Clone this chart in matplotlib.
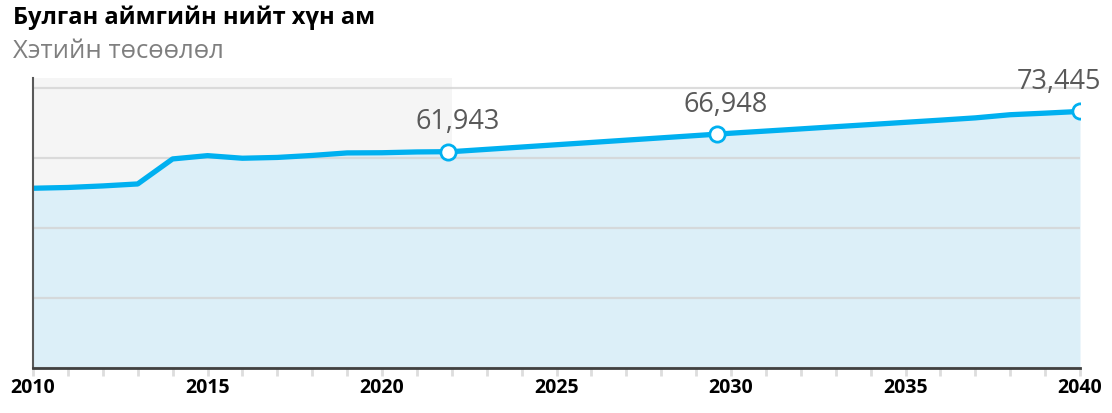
import numpy as np
import matplotlib
matplotlib.use("Agg")
import matplotlib.pyplot as plt

plt.rcParams['font.family'] = ['Open Sans', 'DejaVu Sans']

years = list(range(2010, 2041))
population = [51480, 51700, 52140, 52710, 59860, 60800, 60060, 60290, 60860, 61580,
              61630, 61860, 61943, 62600, 63260, 63920, 64570, 65230, 65890, 66550,
              67215, 67830, 68450, 69080, 69700, 70330, 70950, 71600, 72500, 72950,
              73445]

label_years = [2021.9, 2029.6, 2040]
label_values = [61943, 66948, 73445]
label_text = ["61,943", "66,948", "73,445"]

history_end = 2022

title = "Булган аймгийн нийт хүн ам"
subtitle = "Хэтийн төсөөлөл"

blue = "#00B0F0"

fig = plt.figure(figsize=(11.12, 4.14), dpi=100)
ax = fig.add_axes([33/1112, 1 - 369.3/414, (1080-33)/1112, (369.3-79)/414])

ax.axvspan(2010, history_end, color="#F5F5F5", zorder=0, lw=0)
ax.fill_between(years, population, 0, color="#DCEFF8", zorder=1, lw=0)
ax.plot(years, population, color=blue, lw=3.8, zorder=3, solid_joinstyle="round")
ax.plot(label_years, label_values, "o", ms=11, mfc="white", mec=blue, mew=2, zorder=4)

for x, v, t in zip(label_years, label_values, label_text):
    dx = -15 if x == label_years[-1] else 6.5
    ax.annotate(t, (x, v), xytext=(dx, 22), textcoords="offset points",
                ha="center", va="center", fontsize=19.5, color="#595959",
                annotation_clip=False)

ax.set_xlim(2010, 2040)
ax.set_ylim(0, 83000)
ax.set_yticks(np.arange(0, 80001, 20000))
ax.grid(axis="y", color="#D4D4D4", lw=1.6, alpha=0.8, zorder=2)
ax.set_axisbelow(False)
ax.tick_params(axis="y", left=False, labelleft=False)

ax.set_xticks(np.arange(2010, 2041, 5))
ax.set_xticks(np.arange(2010, 2041, 1), minor=True)
ax.tick_params(axis="x", which="both", length=6, width=2, color="#DDDDDD",
               direction="out", pad=0)
ax.tick_params(axis="x", labelsize=14, labelcolor="black")
for lab in ax.get_xticklabels():
    lab.set_fontweight("bold")

for s in ["top", "right"]:
    ax.spines[s].set_visible(False)
ax.spines["left"].set_color("#595959")
ax.spines["left"].set_linewidth(1.5)
ax.spines["bottom"].set_color("#404040")
ax.spines["bottom"].set_linewidth(2)
ax.spines["left"].set_zorder(5)
ax.spines["bottom"].set_zorder(5)

fig.text(13/1112, 1 - 18/414, title, fontsize=17, fontweight="bold",
         color="black", va="center", ha="left")
fig.text(13/1112, 1 - 51/414, subtitle, fontsize=18.5, color="#7F7F7F",
         va="center", ha="left")

fig.savefig("out.png", dpi=100)
